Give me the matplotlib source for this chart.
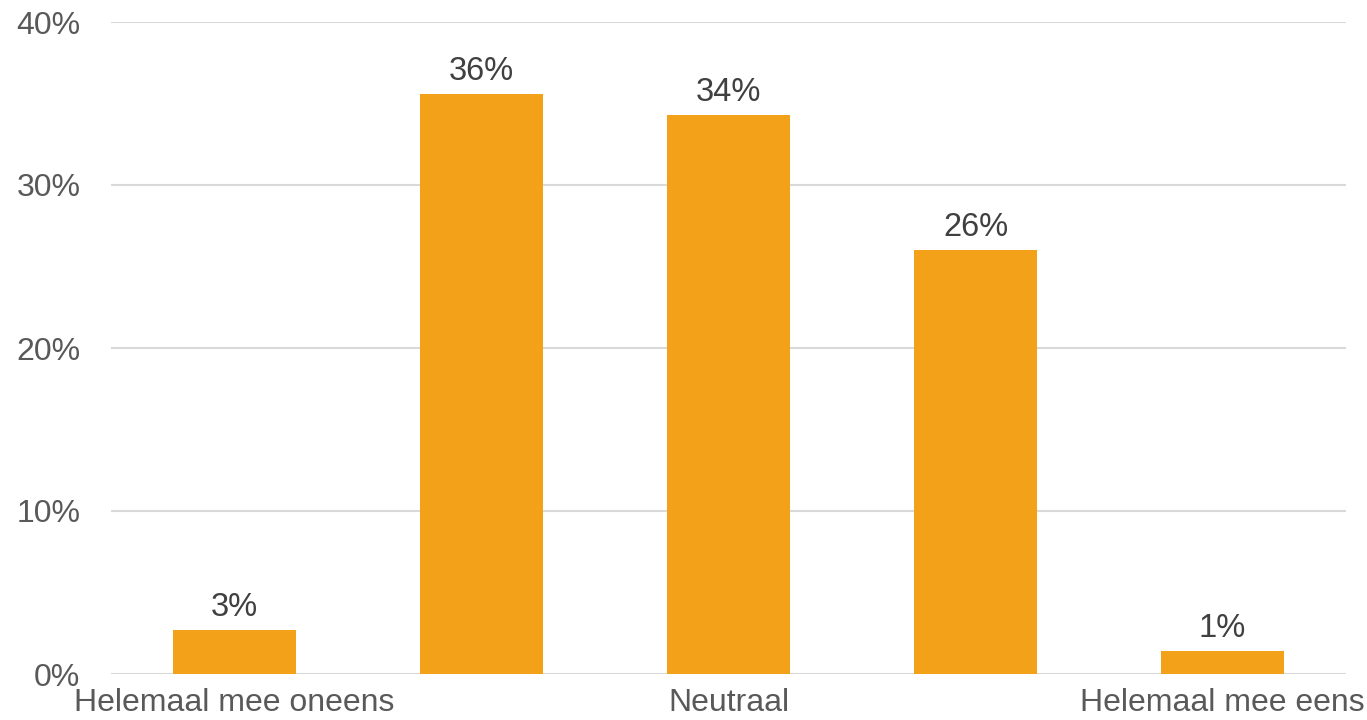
import matplotlib
matplotlib.use("Agg")
import matplotlib.pyplot as plt
from matplotlib.ticker import FuncFormatter

plt.rcParams['font.family'] = ['Liberation Sans', 'DejaVu Sans']

# Survey answer shares (percent)
positions = [0, 1, 2, 3, 4]
shares = [2.7, 35.6, 34.3, 26.0, 1.4]
tick_positions = [0, 2, 4]
tick_labels = ["Helemaal mee oneens", "Neutraal", "Helemaal mee eens"]
y_ticks = [0, 10, 20, 30, 40]

bar_color = "#F4A11A"
grid_color = "#D9D9D9"
axis_text = "#595959"
label_text = "#404040"

fig = plt.figure(figsize=(13.67, 7.2), dpi=100)
ax = fig.add_axes([111 / 1367, 1 - 674 / 720, 1235 / 1367, 652 / 720])

bars = ax.bar(positions, shares, width=0.5, color=bar_color, zorder=3)
for b, v in zip(bars, shares):
    ax.annotate(f"{round(v):.0f}%", (b.get_x() + b.get_width() / 2, v),
                xytext=(0, 5), textcoords="offset points",
                ha="center", va="bottom", fontsize=23.5, color=label_text)

ax.set_xlim(-0.5, 4.5)
ax.set_ylim(0, 40)
ax.set_yticks(y_ticks)
ax.yaxis.set_major_formatter(FuncFormatter(lambda v, _: f"{v:.0f}%"))
ax.set_xticks(tick_positions)
ax.set_xticklabels(tick_labels)

ax.grid(axis="y", color=grid_color, linewidth=1.5, zorder=0)
ax.set_axisbelow(True)
for s in ax.spines.values():
    s.set_visible(False)
ax.tick_params(axis="both", length=0, labelsize=23, colors=axis_text)
ax.tick_params(axis="y", pad=22)
ax.tick_params(axis="x", pad=10)

fig.savefig("out.png", dpi=100)
